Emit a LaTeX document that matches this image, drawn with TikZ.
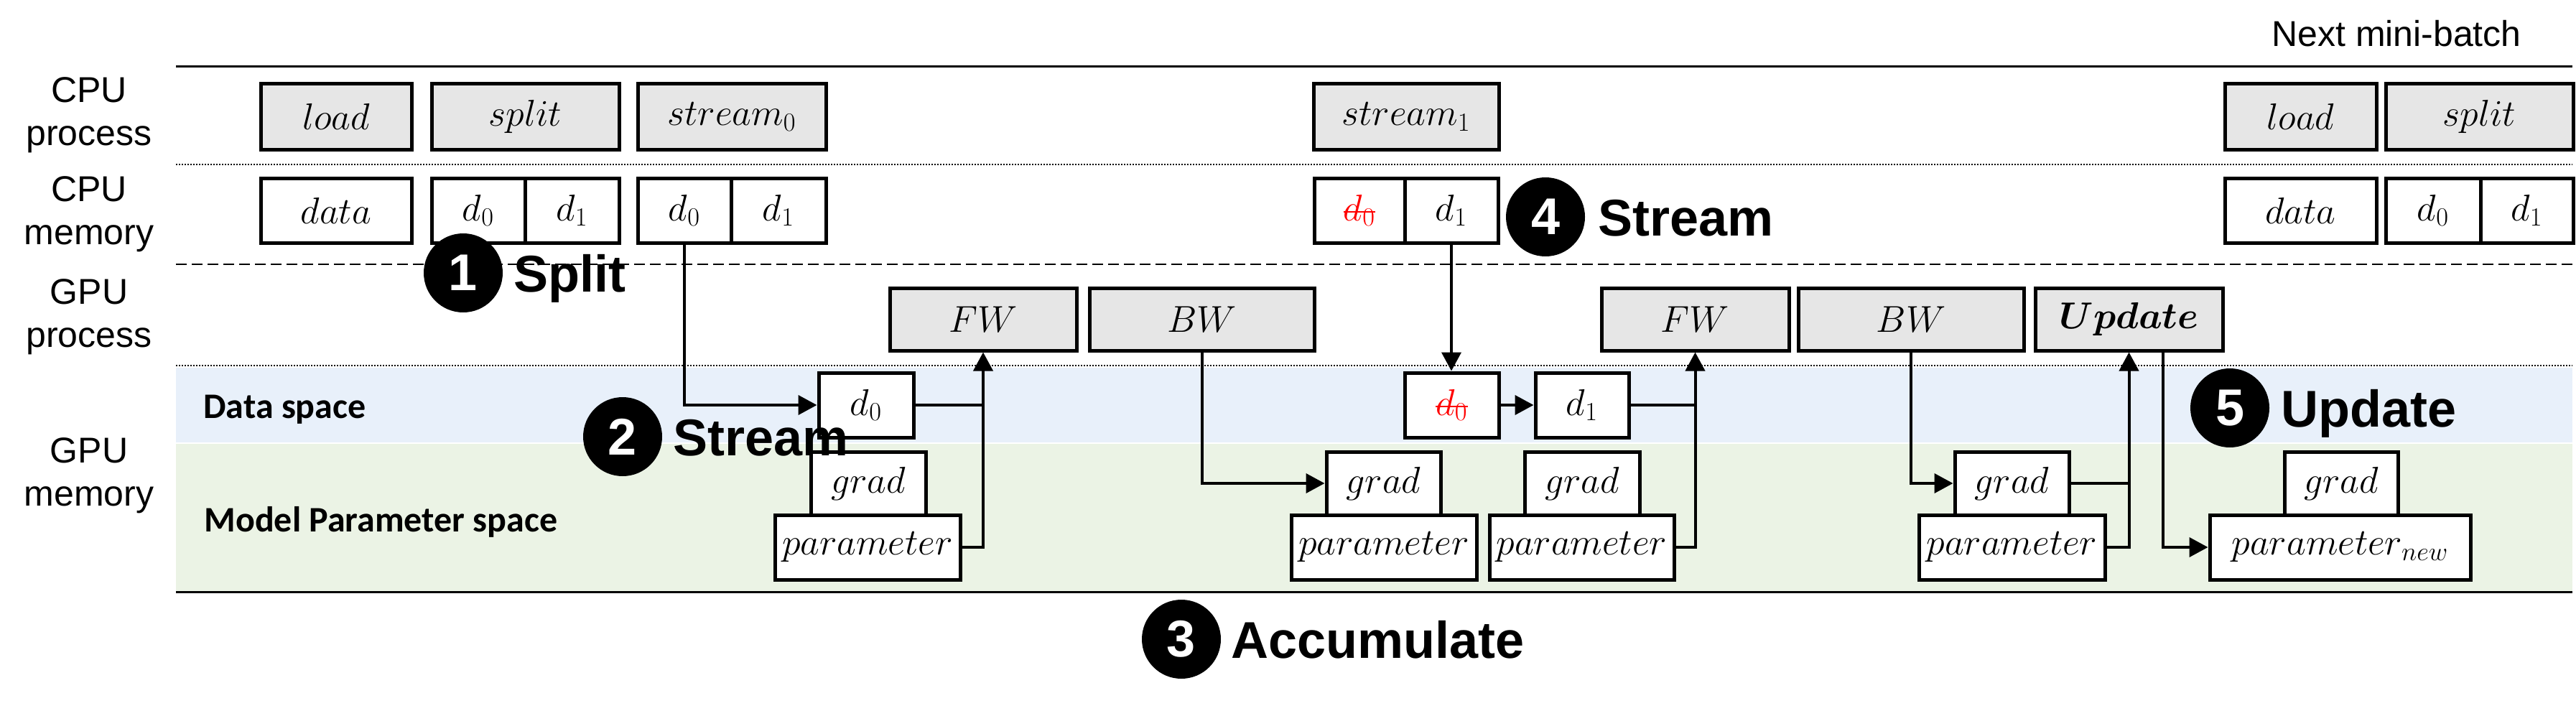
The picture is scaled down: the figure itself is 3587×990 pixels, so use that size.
\RequirePackage{fix-cm}
\documentclass[tikz,border=0pt]{standalone}
\usepackage[no-math]{fontspec}
\setmainfont{Liberation Sans}
\newfontfamily\calib{Carlito}
\usepackage{bm}
\usetikzlibrary{arrows.meta}
\definecolor{procgray}{HTML}{E6E6E6}
\definecolor{datablue}{HTML}{E8F0FA}
\definecolor{paramgreen}{HTML}{EBF3E5}
\newsavebox\dzbox
\newcommand\mybox[7]{\node[#6, minimum width={(#4-#2)*0.5pt}, minimum height={(#5-#3)*0.5pt}] (#1) at ({(#2+#4)/2},{(#3+#5)/2}) {#7};}
\newcommand\strk{\sbox\dzbox{\color{red}$d_0$}{\color{red}\usebox\dzbox\llap{\rule[0.22em]{\wd\dzbox}{1pt}}}}
\tikzset{
  pbox/.style={draw, line width=2.5pt, fill=procgray, inner sep=0pt, font=\fontsize{26}{30}\selectfont},
  wbox/.style={draw, line width=2.5pt, fill=white, inner sep=0pt, font=\fontsize{26}{30}\selectfont},
  conn/.style={line width=2pt},
  arr/.style={line width=2pt, -{Triangle[length=13pt,width=13.5pt]}},
  lanelabel/.style={font=\fontsize{25}{30}\selectfont, align=center, inner sep=0pt},
  badge/.style={circle, fill=black, inner sep=0pt, minimum size=55pt, text=white, font=\fontsize{36}{40}\selectfont\bfseries},
  badgetext/.style={anchor=base west, inner sep=0pt, font=\fontsize{36}{40}\selectfont\bfseries},
  spacelabel/.style={anchor=base west, inner sep=0pt, font=\fontsize{25}{30}\selectfont\calib\bfseries},
}
\begin{document}
\begin{tikzpicture}[x=0.5pt, y=-0.5pt]
\useasboundingbox (0,0) rectangle (3587,990);
% bands
\fill[datablue] (245,512) rectangle (3582,616);
\fill[paramgreen] (245,618) rectangle (3582,823);
% separators
\draw[line width=1.5pt] (245,93) -- (3582,93);
\draw[line width=1.2pt, dash pattern=on 1pt off 1pt] (245,229) -- (3582,229);
\draw[line width=1.2pt, dash pattern=on 7.5pt off 3.5pt] (245,368) -- (3582,368);
\draw[line width=1.2pt, dash pattern=on 1pt off 1pt] (245,509) -- (3582,509);
\draw[line width=1.5pt] (245,824) -- (3582,824);
% lane labels
\node[lanelabel] (lcp) at (124,160) {CPU\\process};
\node[lanelabel] (lcm) at (124,298) {CPU\\memory};
\node[lanelabel] (lgp) at (124,441) {GPU\\process};
\node[lanelabel] (lgm) at (124,662) {GPU\\memory};
\node[anchor=base west, inner sep=0pt, font=\fontsize{25}{30}\selectfont] (nmb) at (3163,65) {Next mini-batch};
\node[spacelabel] (dsl) at (283,582) {Data space};
\node[spacelabel] (mpl) at (284,740) {Model Parameter space};
% CPU process
\mybox{ld1}{363}{117}{573}{208}{pbox}{$load$}
\mybox{sp1}{601}{117}{862}{208}{pbox}{$split$}
\mybox{st0}{888}{117}{1150}{208}{pbox}{$stream_0$}
\mybox{st1}{1829}{117}{2087}{208}{pbox}{$stream_1$}
\mybox{ld2}{3098}{117}{3309}{208}{pbox}{$load$}
\mybox{sp2}{3322}{117}{3583}{208}{pbox}{$split$}
% CPU memory
\mybox{da1}{363}{248}{573}{338}{wbox}{$data$}
\mybox{m1a}{601}{248}{731}{338}{wbox}{$d_0$}
\mybox{m1b}{731}{248}{862}{338}{wbox}{$d_1$}
\mybox{m2a}{888}{248}{1018}{338}{wbox}{$d_0$}
\mybox{m2b}{1018}{248}{1150}{338}{wbox}{$d_1$}
\mybox{m3a}{1830}{248}{1956}{338}{wbox}{\strk}
\mybox{m3b}{1956}{248}{2086}{338}{wbox}{$d_1$}
\mybox{da2}{3098}{248}{3309}{338}{wbox}{$data$}
\mybox{m4a}{3322}{248}{3454}{338}{wbox}{$d_0$}
\mybox{m4b}{3454}{248}{3583}{338}{wbox}{$d_1$}
% GPU process
\mybox{fw1}{1239}{401}{1499}{488}{pbox}{$FW$}
\mybox{bw1}{1517}{401}{1830}{488}{pbox}{$BW$}
\mybox{fw2}{2230}{401}{2491}{488}{pbox}{$FW$}
\mybox{bw2}{2504}{401}{2818}{488}{pbox}{$BW$}
\mybox{up}{2834}{401}{3095}{488}{pbox}{$\bm{Update}$}
% data space
\mybox{gd0}{1140}{519}{1272}{609}{wbox}{$d_0$}
\mybox{gs0}{1956}{519}{2087}{609}{wbox}{\strk}
\mybox{gd1}{2138}{519}{2268}{609}{wbox}{$d_1$}
% model parameter space
\mybox{gr1}{1129}{629}{1289}{717}{wbox}{$grad$}
\mybox{p1}{1079}{717}{1337}{807}{wbox}{$parameter$}
\mybox{gr2}{1847}{629}{2006}{717}{wbox}{$grad$}
\mybox{p2}{1798}{717}{2056}{807}{wbox}{$parameter$}
\mybox{gr3}{2123}{629}{2283}{717}{wbox}{$grad$}
\mybox{p3}{2074}{717}{2331}{807}{wbox}{$parameter$}
\mybox{gr4}{2722}{629}{2881}{717}{wbox}{$grad$}
\mybox{p4}{2672}{717}{2931}{807}{wbox}{$parameter$}
\mybox{gr5}{3181}{629}{3339}{717}{wbox}{$grad$}
\mybox{pn}{3077}{717}{3440}{807}{wbox}{$parameter_{new}$}
% connectors
\draw[arr] (m2a.south) |- (gd0.west);
\draw[conn] (gd0.east) -- (gd0.east -| fw1.south);
\draw[arr] (p1.east) -| (fw1.south);
\draw[arr] (bw1.south) |- (gr2.west);
\draw[arr] (m3b.south) -- (m3b.south |- gs0.north);
\draw[arr] (gs0.east) -- (gd1.west);
\draw[conn] (gd1.east) -- (gd1.east -| fw2.south);
\draw[arr] (p3.east) -| (fw2.south);
\draw[arr] (bw2.south) |- (gr4.west);
\draw[conn] (gr4.east) -- (gr4.east -| up.south);
\draw[arr] (p4.east) -| (up.south);
\draw[arr] ([xshift=23.75pt]up.south) |- (pn.west);
% badges
\node[badge] (b1) at (645,380) {1};
\node[badgetext] (t1) at (715,406) {Split};
\node[badge] (b2) at (867,608) {2};
\node[badgetext] (t2) at (937,634) {Stream};
\node[badge] (b3) at (1645,890) {3};
\node[badgetext] (t3) at (1714,916) {Accumulate};
\node[badge] (b4) at (2152,302) {4};
\node[badgetext] (t4) at (2225,328) {Stream};
\node[badge] (b5) at (3105,568) {5};
\node[badgetext] (t5) at (3176,594) {Update};
\end{tikzpicture}
\end{document}
